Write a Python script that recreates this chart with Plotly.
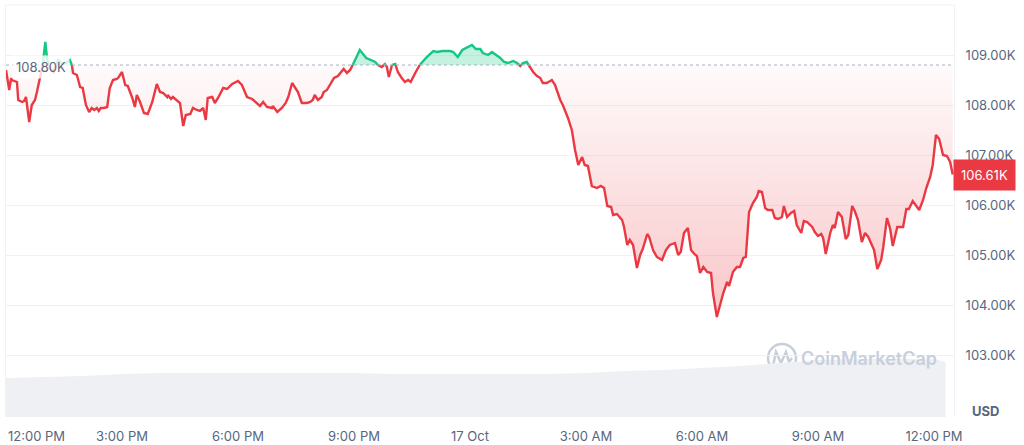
import datetime as dt
import plotly.graph_objects as go

# ---------------- data ----------------
start_time = dt.datetime(2024, 10, 16, 12, 0)
end_minute = 1471
base_price = 108800
last_price = 106610

minutes = [0, 5, 8, 9, 17, 19, 25, 28, 31, 36, 40, 45, 48, 51, 56, 61, 64, 68, 74, 81, 87, 93, 99, 102,
           104, 110, 115, 119, 124, 129, 133, 137, 141, 144, 147, 152, 157, 161, 166, 172, 175, 180,
           185, 189, 196, 200, 203, 208, 214, 220, 227, 234, 239, 244, 250, 251, 256, 259, 265, 270,
           275, 279, 286, 290, 296, 301, 306, 310, 313, 320, 324, 329, 337, 343, 351, 360, 366, 374,
           382, 389, 394, 399, 405, 413, 414, 421, 428, 434, 438, 444, 448, 453, 459, 467, 472, 476,
           479, 484, 490, 493, 498, 503, 509, 515, 521, 524, 529, 534, 538, 543, 549, 559, 565, 573,
           577, 583, 588, 591, 594, 599, 604, 608, 614, 619, 624, 628, 635, 642, 653, 663, 669, 677,
           689, 694, 701, 708, 717, 723, 729, 736, 740, 748, 754, 760, 767, 773, 779, 787, 793, 798,
           802, 808, 813, 818, 824, 829, 833, 839, 847, 852, 860, 864, 872, 878, 883, 888, 894, 898,
           903, 909, 917, 923, 928, 933, 939, 942, 948, 956, 959, 964, 968, 973, 979, 984, 988, 995,
           998, 1004, 1010, 1018, 1024, 1030, 1038, 1043, 1047, 1052, 1058, 1063, 1068, 1072, 1077,
           1082, 1088, 1094, 1097, 1103, 1108, 1113, 1119, 1122, 1128, 1134, 1139, 1144, 1148, 1153,
           1159, 1165, 1168, 1173, 1178, 1182, 1189, 1193, 1198, 1204, 1207, 1212, 1218, 1223, 1227,
           1234, 1238, 1243, 1251, 1255, 1260, 1265, 1268, 1272, 1279, 1283, 1286, 1291, 1297, 1303,
           1307, 1313, 1317, 1322, 1328, 1333, 1338, 1344, 1347, 1352, 1358, 1361, 1367, 1372, 1376,
           1383, 1392, 1397, 1401, 1407, 1412, 1417, 1423, 1428, 1434, 1438, 1443, 1448, 1454, 1460,
           1465, 1469]

prices = [108700, 108300, 108540, 108500, 108460, 108100, 108060, 108080, 108160, 107660, 108000,
          108100, 108260, 108440, 108700, 109260, 108900, 108740, 108660, 108900, 108820, 108840,
          108900, 108820, 108640, 108600, 108360, 108340, 108000, 107860, 107940, 107900, 107940,
          107880, 107940, 107940, 107960, 108340, 108500, 108520, 108560, 108660, 108400, 108380,
          108140, 107960, 108200, 108060, 107840, 107820, 108060, 108420, 108260, 108240, 108160,
          108200, 108120, 108160, 108100, 108040, 107580, 107800, 107820, 107940, 107900, 107880,
          107940, 107700, 108140, 108160, 108040, 108140, 108340, 108320, 108420, 108480, 108400,
          108160, 108120, 108040, 107980, 108060, 107960, 107940, 107980, 107860, 107940, 108040,
          108160, 108440, 108360, 108260, 108040, 108040, 108060, 108100, 108200, 108100, 108160,
          108260, 108300, 108400, 108540, 108580, 108660, 108720, 108640, 108700, 108800, 108940,
          109100, 108940, 108900, 108860, 108800, 108760, 108820, 108760, 108560, 108800, 108820,
          108660, 108540, 108460, 108500, 108460, 108640, 108800, 108960, 109080, 109060, 109080,
          109080, 109060, 108960, 109100, 109160, 109200, 109120, 109120, 109040, 109000, 109060,
          109000, 108940, 108860, 108840, 108880, 108840, 108780, 108840, 108860, 108760, 108660,
          108580, 108540, 108440, 108440, 108500, 108400, 108100, 108000, 107740, 107500, 107100,
          106800, 106960, 106800, 106780, 106380, 106340, 106380, 106340, 105980, 105960, 105800,
          105820, 105700, 105560, 105200, 105300, 105200, 104740, 105000, 105120, 105420, 105360,
          105100, 104960, 104900, 105100, 105200, 105240, 105000, 105060, 105440, 105540, 105100,
          105020, 104980, 104640, 104760, 104660, 104640, 104240, 103760, 104000, 104240, 104460,
          104380, 104660, 104760, 104760, 104940, 104960, 105860, 106040, 106160, 106280, 106260,
          105940, 105900, 105900, 105740, 105720, 105760, 105980, 105760, 105840, 105880, 105600,
          105440, 105680, 105660, 105560, 105460, 105380, 105420, 105340, 105020, 105440, 105600,
          105540, 105860, 105760, 105320, 105400, 105980, 105880, 105700, 105260, 105440, 105360,
          105180, 105100, 104720, 104900, 105140, 105740, 105520, 105180, 105560, 105560, 105920,
          105920, 106080, 106000, 105900, 106100, 106340, 106560, 106800, 107400, 107320, 107000,
          106980, 106860, 106610]

volume_hours = [0, 1, 2, 3, 4, 5, 6, 7, 8, 9, 10, 11, 12, 13, 14, 15, 16, 17, 18, 19, 20, 21, 22,
                23, 24, 24.3]
volume_bn = [35.1, 36.0, 36.9, 38.7, 39.6, 39.6, 39.6, 39.6, 39.6, 39.6, 38.7, 38.7, 38.7, 38.7,
             38.7, 39.6, 41.4, 42.3, 44.1, 45.9, 48.6, 51.3, 52.2, 52.2, 52.2, 49.5]

price_ticks = [103000, 104000, 105000, 106000, 107000, 108000, 109000]
price_tick_text = ["103.00K", "104.00K", "105.00K", "106.00K", "107.00K", "108.00K", "109.00K"]
time_tick_minutes = [180, 360, 540, 720, 900, 1080, 1260, 1440]
time_tick_text = ["3:00 PM", "6:00 PM", "9:00 PM", "17 Oct", "3:00 AM", "6:00 AM", "9:00 AM",
                  "12:00 PM"]
first_tick_text = "12:00 PM"

# ---------------- styling ----------------
RED = "#EA3943"
GREEN = "#16C784"
GRAY = "#58667E"
GRID = "#EFF2F5"
FONT = "Inter"

W, H = 1024, 445
ML, MR, MT, MB = 6, 70, 5, 28
PW, PH = W - ML - MR, H - MT - MB


def px(x):
    return (x - ML) / PW


def py(y):
    return (H - MB - y) / PH


# ---------------- split series at baseline crossings ----------------
times = [start_time + dt.timedelta(minutes=m) for m in minutes]
xs, ys = [], []
for i, (t, p) in enumerate(zip(times, prices)):
    if i > 0:
        p0 = prices[i - 1]
        if (p0 - base_price) * (p - base_price) < 0:
            f = (base_price - p0) / (p - p0)
            xs.append(times[i - 1] + (t - times[i - 1]) * f)
            ys.append(base_price)
    xs.append(t)
    ys.append(p)

red_line = [v if v <= base_price else None for v in ys]
green_line = [v if v >= base_price else None for v in ys]
red_fill = [min(v, base_price) for v in ys]
green_fill = [max(v, base_price) for v in ys]
base_line = [base_price] * len(ys)

vol_x = [start_time + dt.timedelta(hours=h) for h in volume_hours]

fig = go.Figure()

# volume
fig.add_trace(go.Scatter(x=vol_x, y=volume_bn, yaxis="y2", mode="lines", line=dict(width=0),
                         fill="tozeroy", fillcolor="#EEF0F4", hoverinfo="skip", showlegend=False))

# red fill
fig.add_trace(go.Scatter(x=xs, y=base_line, mode="lines", line=dict(width=0), hoverinfo="skip",
                         showlegend=False))
fig.add_trace(go.Scatter(x=xs, y=red_fill, mode="lines", line=dict(width=0), fill="tonexty",
                         fillgradient=dict(type="vertical", start=103500, stop=108800,
                                           colorscale=[[0, "rgba(234,57,67,0.30)"],
                                                       [1, "rgba(234,57,67,0.02)"]]),
                         hoverinfo="skip", showlegend=False))
# green fill
fig.add_trace(go.Scatter(x=xs, y=base_line, mode="lines", line=dict(width=0), hoverinfo="skip",
                         showlegend=False))
fig.add_trace(go.Scatter(x=xs, y=green_fill, mode="lines", line=dict(width=0), fill="tonexty",
                         fillcolor="rgba(22,199,132,0.25)", hoverinfo="skip", showlegend=False))

# lines
fig.add_trace(go.Scatter(x=xs, y=red_line, mode="lines", line=dict(color=RED, width=2.4),
                         connectgaps=False, showlegend=False))
fig.add_trace(go.Scatter(x=xs, y=green_line, mode="lines", line=dict(color=GREEN, width=2.4),
                         connectgaps=False, showlegend=False))

fig.update_layout(
    width=W, height=H,
    margin=dict(l=ML, r=MR, t=MT, b=MB, autoexpand=False),
    paper_bgcolor="white", plot_bgcolor="white",
    font=dict(family=FONT, color=GRAY, size=13),
    xaxis=dict(range=[start_time, start_time + dt.timedelta(minutes=end_minute)],
               tickvals=[start_time + dt.timedelta(minutes=m) for m in time_tick_minutes],
               ticktext=time_tick_text, showgrid=False, zeroline=False, showline=False,
               ticks="", ticklabelstandoff=10, automargin=False,
               tickfont=dict(size=13, color=GRAY)),
    yaxis=dict(range=[101760, 110000], side="right", tickvals=price_ticks,
               ticktext=price_tick_text, showgrid=True, gridcolor=GRID, gridwidth=1,
               zeroline=False, showline=True, linecolor=GRID, mirror=True, ticks="",
               ticklabelstandoff=8, automargin=False, tickfont=dict(size=13, color=GRAY)),
    yaxis2=dict(range=[0, 370.8], overlaying="y", visible=False),
    showlegend=False,
)

shapes = [
    dict(type="line", xref="paper", yref="y", x0=0, x1=1, y0=base_price, y1=base_price,
         line=dict(color="#A6B0C3", width=1, dash="dot")),
    dict(type="line", xref="paper", yref="paper", x0=0, x1=1, y0=1, y1=1,
         line=dict(color=GRID, width=1)),
    # watermark logo
    dict(type="circle", xref="paper", yref="paper", x0=px(768), x1=px(796), y0=py(372), y1=py(344),
         line=dict(color="#C8CFDB", width=2.5), layer="below"),
    dict(type="path", xref="paper", yref="paper",
         path=f"M {px(773)},{py(366)} L {px(776)},{py(352)} L {px(781)},{py(363)} "
              f"L {px(786)},{py(352)} L {px(789)},{py(362)} L {px(792)},{py(358)}",
         line=dict(color="#C8CFDB", width=2.5), layer="below"),
]
fig.update_layout(shapes=shapes)

annotations = [
    dict(xref="paper", yref="y", x=px(12), y=base_price, text="108.80K", showarrow=False,
         xanchor="left", yanchor="middle", bgcolor="rgba(255,255,255,0.8)", borderpad=3,
         font=dict(size=13, color=GRAY), yshift=-2),
    dict(xref="paper", yref="y", x=1, y=last_price, text=f"{last_price/1000:.2f}K",
         showarrow=False, xanchor="left", yanchor="middle", bgcolor=RED, borderpad=7,
         font=dict(size=13, color="white"), xshift=-1),
    dict(xref="paper", yref="paper", x=px(985), y=py(411), text="<b>USD</b>", showarrow=False,
         xanchor="center", yanchor="middle", font=dict(size=13, color=GRAY)),
    dict(xref="paper", yref="paper", x=0, y=py(436), text=first_tick_text, showarrow=False,
         xanchor="left", yanchor="middle", font=dict(size=13, color=GRAY)),
    dict(xref="paper", yref="paper", x=px(799), y=py(358), text="CoinMarketCap", showarrow=False,
         xanchor="left", yanchor="middle", font=dict(size=18, color="#C8CFDB", weight=600)),
]
fig.update_layout(annotations=annotations)

fig.write_html("out.html", config={"displayModeBar": False},
               post_script="document.body.style.margin='0';")
